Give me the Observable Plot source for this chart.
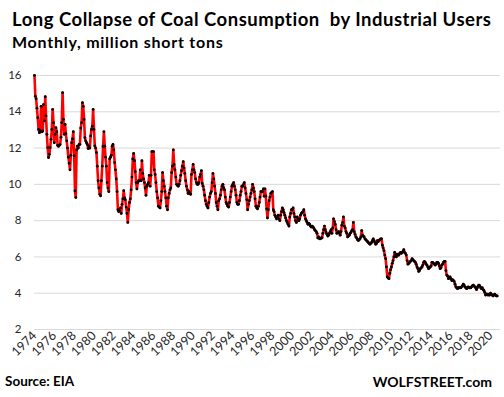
<!DOCTYPE html>
<html><head><meta charset="utf-8">
<script src="https://cdn.jsdelivr.net/npm/d3@7"></script>
<script src="https://cdn.jsdelivr.net/npm/@observablehq/plot@0.6"></script>
<style>
body{margin:0;background:#fff;}
#wrap{position:relative;width:504px;height:397px;overflow:hidden;font-family:Lato,"Open Sans",sans-serif;}
#wrap svg{position:absolute;left:0;top:0;}
.t{position:absolute;white-space:pre;font-weight:bold;color:#000;line-height:1;z-index:2;}
#title{left:12px;top:9.5px;font-size:18.5px;letter-spacing:0.5px;}
#sub{left:12px;top:34px;font-size:16px;letter-spacing:0.75px;}
#src{left:5px;top:375px;font-size:13.5px;}
#wolf{right:12px;top:375px;font-size:14px;}
</style></head>
<body>
<div id="wrap">
<div class="t" id="title">Long Collapse of Coal Consumption  by Industrial Users</div>
<div class="t" id="sub">Monthly, million short tons</div>
<div class="t" id="src">Source: EIA</div>
<div class="t" id="wolf">WOLFSTREET.com</div>
</div>
<script>
// First month of the series (monthly data, one value per month)
const startYear = 1974;
const startMonth = 0; // January
// Million short tons per month, Jan 1974 onward (12 values per line)
const consumption = [
16.0,14.86,14.72,14.2,13.67,13.03,12.85,12.94,14.3,12.9,12.94,14.4,      // 1974
13.5,14.83,13.77,12.76,12.03,11.48,11.66,12.03,12.48,13.03,14.13,13.4,   // 1975
12.3,12.76,13.12,12.9,12.15,12.1,12.15,12.2,12.6,13.4,15.05,13.58,       // 1976
12.76,13.3,12.8,12.4,12.0,11.5,11.17,10.8,11.6,12.3,12.5,12.9,           // 1977
11.57,9.64,9.28,11.9,12.1,12.0,12.2,12.2,13.1,13.4,14.5,14.3,            // 1978
13.58,12.57,12.4,12.3,12.2,11.97,12.1,12.0,12.67,13.03,13.2,14.13,       // 1979
13.03,12.12,12.0,11.75,11.0,10.2,9.8,9.46,9.37,10.2,11.0,12.1,           // 1980
12.9,12.1,11.5,11.0,10.1,9.8,9.6,11.4,11.5,11.6,12.1,12.2,               // 1981
11.9,11.2,10.8,10.3,9.6,8.6,8.5,8.55,8.7,8.4,8.9,9.2,                    // 1982
9.65,9.25,9.15,8.75,8.4,7.9,8.6,9.0,9.2,9.7,10.4,11.4,                   // 1983
11.7,11.3,10.7,10.1,9.75,10.1,10.2,10.2,10.8,10.2,11.3,10.6,             // 1984
10.3,10.1,9.8,9.4,9.9,10.0,10.1,10.5,9.9,10.5,11.8,11.8,                 // 1985
11.8,10.8,10.55,10.1,9.6,9.25,8.8,8.75,8.7,9.1,9.6,10.65,                // 1986
10.2,9.9,9.6,9.25,8.8,8.6,9.25,9.5,9.7,9.8,10.65,11.0,                   // 1987
11.9,11.1,10.8,10.4,10.0,9.95,9.9,10.0,10.2,10.5,10.75,11.0,             // 1988
11.25,10.9,10.6,10.2,9.9,9.7,9.5,9.6,9.5,9.45,10.55,10.8,                // 1989
11.1,10.8,10.65,10.3,10.1,10.0,10.0,10.1,10.4,10.55,10.75,10.05,         // 1990
9.9,9.7,9.4,9.1,8.9,8.8,8.7,9.0,9.3,9.5,9.6,10.1,                        // 1991
10.6,10.3,9.9,9.5,9.0,8.8,8.6,9.1,9.2,9.4,9.7,9.9,                       // 1992
10.0,9.8,9.7,9.3,9.0,8.9,8.8,8.75,9.0,9.3,9.6,9.9,                       // 1993
10.0,10.1,9.9,9.7,9.4,9.0,8.9,8.9,9.1,9.4,9.6,9.9,                       // 1994
9.9,10.0,10.1,9.8,9.5,9.15,8.6,8.9,9.1,9.3,9.5,9.7,                      // 1995
10.0,9.8,9.6,9.2,8.8,8.7,8.65,8.8,9.0,9.3,9.6,9.6,                       // 1996
9.6,9.75,9.35,9.75,9.35,8.65,8.15,8.6,9.1,9.3,9.5,9.55,                  // 1997
9.6,8.6,8.5,8.3,8.2,8.1,8.2,8.3,8.1,8.0,8.3,8.5,                         // 1998
8.7,8.6,8.45,8.3,8.15,8.0,7.9,7.8,7.7,8.2,8.4,8.6,                       // 1999
8.6,8.7,8.4,8.2,8.0,7.9,8.2,8.1,8.0,8.1,8.3,8.4,                         // 2000
8.45,8.5,8.6,8.3,8.1,8.0,7.9,7.8,7.85,7.8,7.7,7.65,                      // 2001
7.7,7.65,7.6,7.5,7.45,7.4,7.3,7.05,7.1,7.0,7.0,7.05,                     // 2002
7.05,7.3,7.5,7.7,7.5,7.35,7.25,7.15,7.2,7.3,7.4,7.5,                     // 2003
7.3,7.6,8.1,7.95,7.8,7.5,7.3,7.35,7.4,7.3,7.2,7.4,                       // 2004
7.75,7.9,8.2,7.7,7.6,7.4,7.3,7.1,7.15,7.2,7.3,7.35,                      // 2005
7.45,7.5,7.9,7.4,7.25,7.1,7.05,6.95,6.9,6.95,7.0,7.1,                    // 2006
7.45,7.2,7.15,7.1,7.0,6.95,6.9,6.85,6.8,6.75,6.7,6.75,                   // 2007
6.8,6.9,7.0,6.9,6.8,6.7,6.75,6.9,6.85,6.9,6.95,7.0,                      // 2008
7.0,6.65,6.5,6.35,6.1,5.9,5.45,4.9,4.85,4.8,5.1,5.3,                     // 2009
5.45,5.65,5.8,6.0,6.25,6.1,6.0,6.15,6.1,6.1,6.2,6.25,                    // 2010
6.2,6.25,6.3,6.4,6.25,6.2,6.1,5.8,5.6,5.65,5.7,5.75,                     // 2011
5.8,5.9,5.85,5.8,5.75,5.7,5.6,5.45,5.35,5.2,5.25,5.35,                   // 2012
5.4,5.45,5.55,5.7,5.75,5.7,5.6,5.55,5.45,5.35,5.4,5.45,                  // 2013
5.5,5.7,5.7,5.65,5.6,5.55,5.6,5.7,5.7,5.65,5.5,5.35,                     // 2014
5.4,5.55,5.6,5.7,5.75,5.75,5.25,5.0,4.95,4.8,4.85,4.9,                   // 2015
4.8,4.7,4.75,4.7,4.65,4.5,4.35,4.3,4.25,4.3,4.3,4.3,                     // 2016
4.3,4.35,4.4,4.5,4.45,4.35,4.3,4.25,4.3,4.35,4.3,4.3,                    // 2017
4.3,4.35,4.4,4.45,4.4,4.35,4.3,4.2,4.3,4.4,4.45,4.4,                     // 2018
4.3,4.25,4.3,4.2,4.15,4.05,3.9,3.95,3.95,3.9,3.95,3.9,                   // 2019
4.0,3.95,3.9,3.85,3.9,3.95,3.9,3.85,3.85                                 // 2020
];
// Axis tick labels
const yTicks = [2, 4, 6, 8, 10, 12, 14, 16];
const xTickYears = [1974,1976,1978,1980,1982,1984,1986,1988,1990,1992,1994,1996,1998,2000,2002,2004,2006,2008,2010,2012,2014,2016,2018,2020];
const xDomainYears = [1974, 2021];

const data = consumption.map((v, i) => ({
  date: new Date(Date.UTC(startYear, startMonth + i, 1)),
  value: v
}));
const xTicks = xTickYears.map(y => new Date(Date.UTC(y, 0, 1)));

const chart = Plot.plot({
  width: 504,
  height: 397,
  marginTop: 75,
  marginBottom: 68,
  marginLeft: 34,
  marginRight: 4,
  style: {background: "transparent", fontFamily: "Lato, 'Open Sans', sans-serif", fontSize: "11px", color: "#262626"},
  x: {type: "utc", domain: xDomainYears.map(y => new Date(Date.UTC(y, 0, 1)))},
  y: {domain: [2, 16]},
  marks: [
    Plot.gridY(yTicks, {stroke: "#d9d9d9", strokeOpacity: 1, strokeWidth: 1}),
    Plot.axisY(yTicks, {tickSize: 0, tickPadding: 13, label: null, fontSize: 11.5}),
    Plot.axisX(xTicks, {tickSize: 0, tickPadding: 4, tickRotate: -45, tickFormat: d3.utcFormat("%Y"), label: null, fontSize: 12.5}),
    Plot.line(data, {x: "date", y: "value", stroke: "#ff0000", strokeWidth: 2.6}),
    Plot.dot(data, {x: "date", y: "value", r: 1.4, fill: "#000", stroke: null})
  ]
});
document.getElementById("wrap").appendChild(chart);
</script>
</body></html>
